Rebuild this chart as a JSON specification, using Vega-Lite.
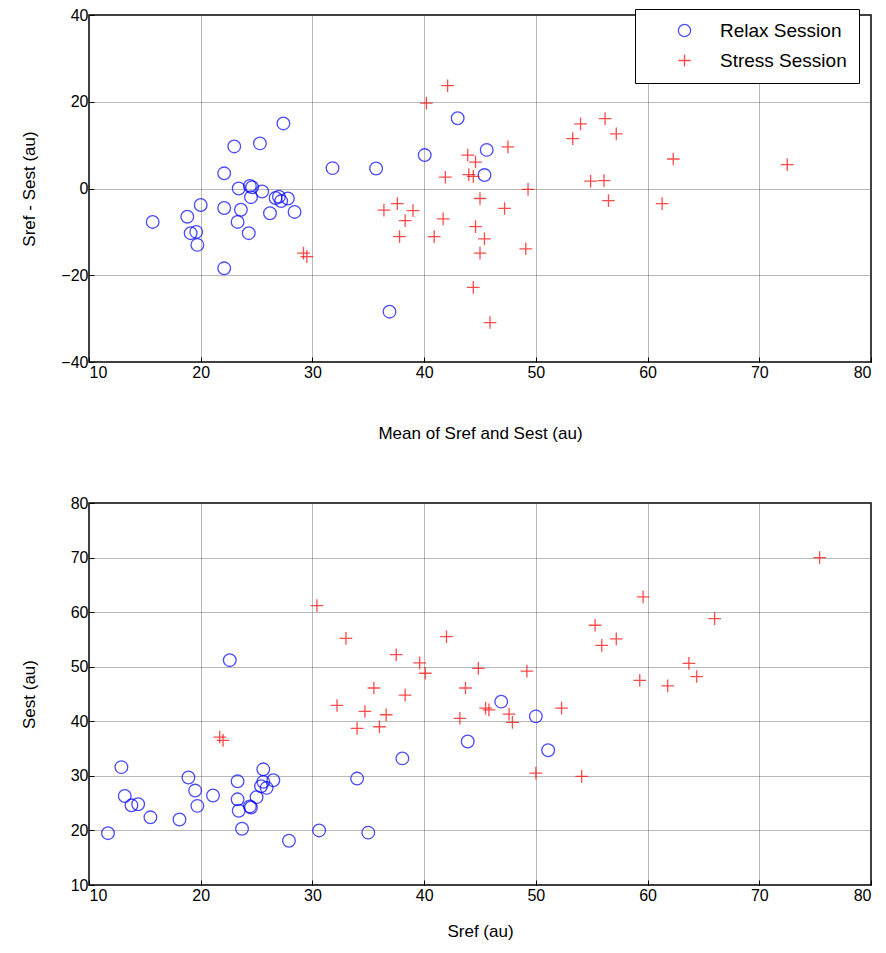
{
  "$schema": "https://vega.github.io/schema/vega-lite/v6.json",
  "padding": {"left": 19, "top": 6, "right": 2, "bottom": 5},
  "spacing": 52,
  "config": {
    "font": "Liberation Sans",
    "view": {"stroke": "#000", "strokeWidth": 1.5},
    "axis": {
      "labelFont": "Liberation Sans", "labelFontSize": 16, "labelColor": "#000",
      "titleFont": "Liberation Sans", "titleFontSize": 17, "titleFontWeight": "normal", "titleColor": "#000",
      "domain": false, "tickColor": "#000", "tickSize": -5, "labelPadding": 7,
      "grid": true, "gridColor": "#444", "gridDash": [1, 1], "gridWidth": 0.9, "gridOpacity": 0.85
    },
    "legend": {
      "labelFont": "Liberation Sans", "labelFontSize": 19, "labelColor": "#000",
      "strokeColor": "#000", "fillColor": "#fff", "padding": 12, "rowPadding": 10,
      "symbolOffset": 28, "labelOffset": 26, "symbolStrokeWidth": 1.3, "symbolSize": 150
    }
  },
  "datasets": {
    "bland": [
      {"session": "Relax Session", "mean": 27.4, "diff": 15.0},
      {"session": "Relax Session", "mean": 23.0, "diff": 9.7},
      {"session": "Relax Session", "mean": 25.3, "diff": 10.4},
      {"session": "Relax Session", "mean": 22.1, "diff": 3.5},
      {"session": "Relax Session", "mean": 31.8, "diff": 4.7},
      {"session": "Relax Session", "mean": 23.4, "diff": 0.0},
      {"session": "Relax Session", "mean": 24.4, "diff": 0.6},
      {"session": "Relax Session", "mean": 24.6, "diff": 0.3},
      {"session": "Relax Session", "mean": 25.5, "diff": -0.7},
      {"session": "Relax Session", "mean": 24.5, "diff": -2.0},
      {"session": "Relax Session", "mean": 26.7, "diff": -2.2},
      {"session": "Relax Session", "mean": 27.0, "diff": -1.9},
      {"session": "Relax Session", "mean": 27.2, "diff": -2.9},
      {"session": "Relax Session", "mean": 27.8, "diff": -2.3},
      {"session": "Relax Session", "mean": 28.4, "diff": -5.4},
      {"session": "Relax Session", "mean": 26.2, "diff": -5.7},
      {"session": "Relax Session", "mean": 22.1, "diff": -4.5},
      {"session": "Relax Session", "mean": 23.6, "diff": -4.9},
      {"session": "Relax Session", "mean": 23.3, "diff": -7.7},
      {"session": "Relax Session", "mean": 24.3, "diff": -10.3},
      {"session": "Relax Session", "mean": 20.0, "diff": -3.8},
      {"session": "Relax Session", "mean": 18.8, "diff": -6.5},
      {"session": "Relax Session", "mean": 15.7, "diff": -7.7},
      {"session": "Relax Session", "mean": 19.1, "diff": -10.3},
      {"session": "Relax Session", "mean": 19.6, "diff": -10.0},
      {"session": "Relax Session", "mean": 19.7, "diff": -13.0},
      {"session": "Relax Session", "mean": 22.1, "diff": -18.4},
      {"session": "Relax Session", "mean": 43.0, "diff": 16.2},
      {"session": "Relax Session", "mean": 40.05, "diff": 7.7},
      {"session": "Relax Session", "mean": 45.6, "diff": 8.9},
      {"session": "Relax Session", "mean": 45.4, "diff": 3.1},
      {"session": "Relax Session", "mean": 35.7, "diff": 4.6},
      {"session": "Relax Session", "mean": 36.9, "diff": -28.4},
      {"session": "Stress Session", "mean": 42.1, "diff": 23.7},
      {"session": "Stress Session", "mean": 40.2, "diff": 19.7},
      {"session": "Stress Session", "mean": 47.5, "diff": 9.6},
      {"session": "Stress Session", "mean": 43.9, "diff": 7.7},
      {"session": "Stress Session", "mean": 44.6, "diff": 6.1},
      {"session": "Stress Session", "mean": 44.0, "diff": 3.2},
      {"session": "Stress Session", "mean": 44.4, "diff": 2.8},
      {"session": "Stress Session", "mean": 41.9, "diff": 2.6},
      {"session": "Stress Session", "mean": 49.3, "diff": -0.2},
      {"session": "Stress Session", "mean": 45.0, "diff": -2.3},
      {"session": "Stress Session", "mean": 37.6, "diff": -3.5},
      {"session": "Stress Session", "mean": 36.4, "diff": -5.0},
      {"session": "Stress Session", "mean": 39.0, "diff": -5.1},
      {"session": "Stress Session", "mean": 38.3, "diff": -7.4},
      {"session": "Stress Session", "mean": 41.7, "diff": -7.0},
      {"session": "Stress Session", "mean": 47.2, "diff": -4.6},
      {"session": "Stress Session", "mean": 44.6, "diff": -8.8},
      {"session": "Stress Session", "mean": 45.4, "diff": -11.6},
      {"session": "Stress Session", "mean": 37.8, "diff": -11.1},
      {"session": "Stress Session", "mean": 40.9, "diff": -11.1},
      {"session": "Stress Session", "mean": 45.0, "diff": -14.9},
      {"session": "Stress Session", "mean": 49.1, "diff": -13.9},
      {"session": "Stress Session", "mean": 29.2, "diff": -14.9},
      {"session": "Stress Session", "mean": 29.5, "diff": -15.7},
      {"session": "Stress Session", "mean": 44.4, "diff": -22.8},
      {"session": "Stress Session", "mean": 45.9, "diff": -30.9},
      {"session": "Stress Session", "mean": 54.0, "diff": 14.9},
      {"session": "Stress Session", "mean": 56.2, "diff": 16.1},
      {"session": "Stress Session", "mean": 57.2, "diff": 12.6},
      {"session": "Stress Session", "mean": 53.3, "diff": 11.5},
      {"session": "Stress Session", "mean": 62.3, "diff": 6.8},
      {"session": "Stress Session", "mean": 72.5, "diff": 5.5},
      {"session": "Stress Session", "mean": 54.9, "diff": 1.7},
      {"session": "Stress Session", "mean": 56.1, "diff": 1.8},
      {"session": "Stress Session", "mean": 56.5, "diff": -2.8},
      {"session": "Stress Session", "mean": 61.3, "diff": -3.5}
    ],
    "corr": [
      {"session": "Relax Session", "sref": 12.9, "sest": 31.6},
      {"session": "Relax Session", "sref": 13.2, "sest": 26.3},
      {"session": "Relax Session", "sref": 13.8, "sest": 24.6},
      {"session": "Relax Session", "sref": 14.4, "sest": 24.8},
      {"session": "Relax Session", "sref": 15.5, "sest": 22.4},
      {"session": "Relax Session", "sref": 11.7, "sest": 19.5},
      {"session": "Relax Session", "sref": 18.1, "sest": 22.0},
      {"session": "Relax Session", "sref": 18.9, "sest": 29.7},
      {"session": "Relax Session", "sref": 19.5, "sest": 27.3},
      {"session": "Relax Session", "sref": 19.7, "sest": 24.5},
      {"session": "Relax Session", "sref": 21.1, "sest": 26.4},
      {"session": "Relax Session", "sref": 23.3, "sest": 29.0},
      {"session": "Relax Session", "sref": 23.3, "sest": 25.7},
      {"session": "Relax Session", "sref": 23.4, "sest": 23.6},
      {"session": "Relax Session", "sref": 24.4, "sest": 24.4},
      {"session": "Relax Session", "sref": 24.5, "sest": 24.2},
      {"session": "Relax Session", "sref": 25.0, "sest": 26.1},
      {"session": "Relax Session", "sref": 25.6, "sest": 31.2},
      {"session": "Relax Session", "sref": 25.6, "sest": 28.9},
      {"session": "Relax Session", "sref": 25.4, "sest": 28.1},
      {"session": "Relax Session", "sref": 25.9, "sest": 27.8},
      {"session": "Relax Session", "sref": 26.5, "sest": 29.2},
      {"session": "Relax Session", "sref": 23.7, "sest": 20.3},
      {"session": "Relax Session", "sref": 30.6, "sest": 20.0},
      {"session": "Relax Session", "sref": 35.0, "sest": 19.6},
      {"session": "Relax Session", "sref": 27.9, "sest": 18.1},
      {"session": "Relax Session", "sref": 34.0, "sest": 29.5},
      {"session": "Relax Session", "sref": 38.05, "sest": 33.2},
      {"session": "Relax Session", "sref": 43.9, "sest": 36.3},
      {"session": "Relax Session", "sref": 46.9, "sest": 43.6},
      {"session": "Relax Session", "sref": 50.0, "sest": 40.9},
      {"session": "Relax Session", "sref": 51.1, "sest": 34.7},
      {"session": "Relax Session", "sref": 22.6, "sest": 51.2},
      {"session": "Stress Session", "sref": 21.7, "sest": 37.1},
      {"session": "Stress Session", "sref": 22.0, "sest": 36.5},
      {"session": "Stress Session", "sref": 30.4, "sest": 61.2},
      {"session": "Stress Session", "sref": 33.0, "sest": 55.2},
      {"session": "Stress Session", "sref": 37.5, "sest": 52.2},
      {"session": "Stress Session", "sref": 39.6, "sest": 50.7},
      {"session": "Stress Session", "sref": 40.1, "sest": 48.8},
      {"session": "Stress Session", "sref": 42.0, "sest": 55.5},
      {"session": "Stress Session", "sref": 44.85, "sest": 49.7},
      {"session": "Stress Session", "sref": 49.2, "sest": 49.2},
      {"session": "Stress Session", "sref": 35.5, "sest": 46.1},
      {"session": "Stress Session", "sref": 38.3, "sest": 44.8},
      {"session": "Stress Session", "sref": 43.7, "sest": 46.1},
      {"session": "Stress Session", "sref": 32.2, "sest": 42.9},
      {"session": "Stress Session", "sref": 34.7, "sest": 41.8},
      {"session": "Stress Session", "sref": 36.6, "sest": 41.2},
      {"session": "Stress Session", "sref": 34.0, "sest": 38.7},
      {"session": "Stress Session", "sref": 36.0, "sest": 39.0},
      {"session": "Stress Session", "sref": 43.2, "sest": 40.55},
      {"session": "Stress Session", "sref": 45.5, "sest": 42.4},
      {"session": "Stress Session", "sref": 45.8, "sest": 42.1},
      {"session": "Stress Session", "sref": 47.6, "sest": 41.3},
      {"session": "Stress Session", "sref": 47.9, "sest": 39.8},
      {"session": "Stress Session", "sref": 52.3, "sest": 42.4},
      {"session": "Stress Session", "sref": 50.0, "sest": 30.5},
      {"session": "Stress Session", "sref": 75.4, "sest": 70.0},
      {"session": "Stress Session", "sref": 59.6, "sest": 62.8},
      {"session": "Stress Session", "sref": 66.0, "sest": 58.8},
      {"session": "Stress Session", "sref": 55.3, "sest": 57.6},
      {"session": "Stress Session", "sref": 55.9, "sest": 53.9},
      {"session": "Stress Session", "sref": 57.2, "sest": 55.1},
      {"session": "Stress Session", "sref": 63.7, "sest": 50.6},
      {"session": "Stress Session", "sref": 64.4, "sest": 48.2},
      {"session": "Stress Session", "sref": 59.3, "sest": 47.5},
      {"session": "Stress Session", "sref": 61.8, "sest": 46.5},
      {"session": "Stress Session", "sref": 54.1, "sest": 29.9}
    ]
  },
  "resolve": {"scale": {"color": "independent", "shape": "independent"}},
  "vconcat": [
    {
      "width": 782,
      "height": 347,
      "data": {"name": "bland"},
      "mark": {"type": "point", "filled": false, "strokeWidth": 1.3, "size": 160},
      "encoding": {
        "x": {"field": "mean", "type": "quantitative", "scale": {"domain": [10, 80], "nice": false},
          "axis": {"values": [10, 20, 30, 40, 50, 60, 70, 80], "title": "Mean of Sref and Sest (au)", "titlePadding": 45}},
        "y": {"field": "diff", "type": "quantitative", "scale": {"domain": [-40, 40], "nice": false},
          "axis": {"values": [-40, -20, 0, 20, 40], "title": "Sref - Sest (au)", "titlePadding": 22, "labelPadding": 6}},
        "color": {"field": "session", "type": "nominal",
          "scale": {"domain": ["Relax Session", "Stress Session"], "range": ["#0000ff", "#ff0000"]},
          "legend": {"title": null, "orient": "none", "legendX": 546, "legendY": -6}},
        "shape": {"field": "session", "type": "nominal",
          "scale": {"domain": ["Relax Session", "Stress Session"], "range": ["circle", "M-1,0L1,0M0,-1L0,1"]},
          "legend": {"title": null, "orient": "none", "legendX": 546, "legendY": -6}}
      }
    },
    {
      "width": 782,
      "height": 382,
      "data": {"name": "corr"},
      "mark": {"type": "point", "filled": false, "strokeWidth": 1.3, "size": 160},
      "encoding": {
        "x": {"field": "sref", "type": "quantitative", "scale": {"domain": [10, 80], "nice": false},
          "axis": {"values": [10, 20, 30, 40, 50, 60, 70, 80], "title": "Sref (au)", "titlePadding": 20}},
        "y": {"field": "sest", "type": "quantitative", "scale": {"domain": [10, 80], "nice": false},
          "axis": {"values": [10, 20, 30, 40, 50, 60, 70, 80], "title": "Sest (au)", "titlePadding": 32, "labelPadding": 6}},
        "color": {"field": "session", "type": "nominal",
          "scale": {"domain": ["Relax Session", "Stress Session"], "range": ["#0000ff", "#ff0000"]},
          "legend": null},
        "shape": {"field": "session", "type": "nominal",
          "scale": {"domain": ["Relax Session", "Stress Session"], "range": ["circle", "M-1,0L1,0M0,-1L0,1"]},
          "legend": null}
      }
    }
  ]
}
